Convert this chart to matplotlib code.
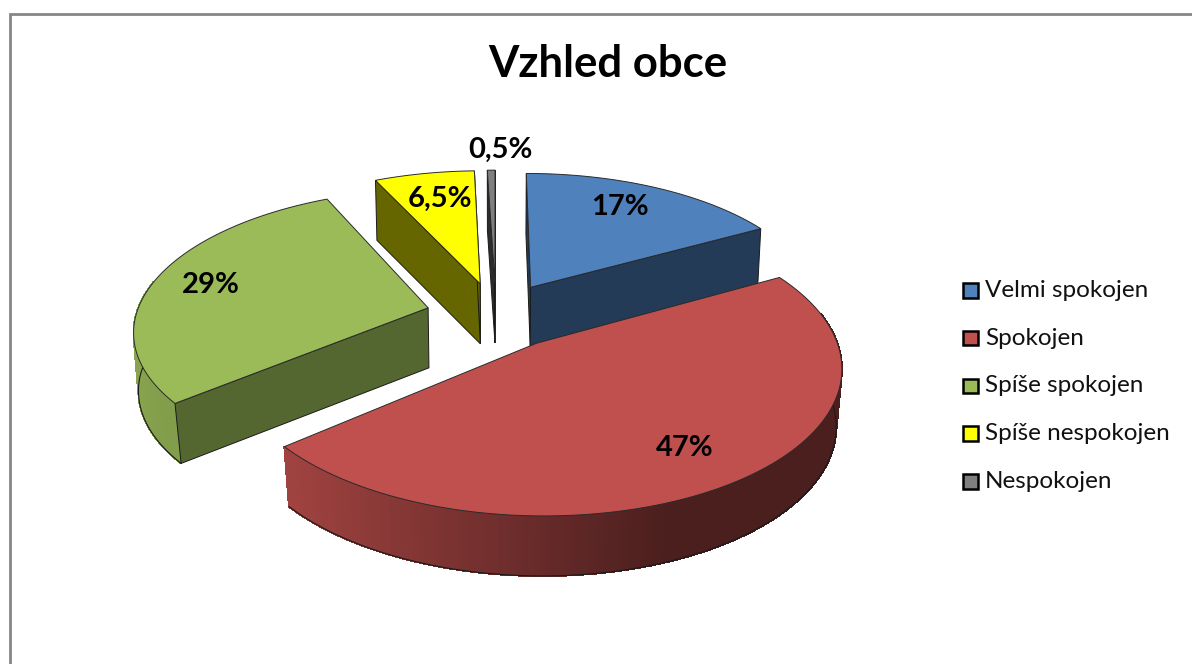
# -*- coding: utf-8 -*-
"""Exploded 3D pie chart, drawn with a small perspective projection."""
import numpy as np
import matplotlib as mpl
import matplotlib.pyplot as plt

categories = ["Velmi spokojen", "Spokojen", "Spíše spokojen",
              "Spíše nespokojen", "Nespokojen"]
values = [17, 47, 29, 6.5, 0.5]
value_labels = ["17%", "47%", "29%", "6,5%", "0,5%"]

colors = ['#4f81bd', '#c0504d', '#9bbb59', '#ffff00', '#7f7f7f']
face_shade = [0.46, 0.4, 0.55, 0.4, 0.35]
# order in which the slices are painted, far ones first
paint_order = [4, 3, 2, 0, 1]

CX, CY = 496.0, 315.0
RADIUS = 292.0
TILT = 0.473
PERSP = 0.147
EXPLODE = 0.24
HEIGHT = 60.0

# label placement: distance from the slice apex, then a pixel nudge
label_radius = [0.76, 0.77, 0.795, 0.76, 1.22]
label_dx = [-8, 0, 0, 4, 10]
label_dy = [-2, 1, 0, 1, 1]


def project(x, y, z=0.0):
    """World coordinates on the pie plane to pixels; z=1 is the bottom."""
    s = RADIUS / (1 + PERSP * y)
    shrink = 1 - (0.012 - 0.012 * np.minimum(y, 0)) * z
    return CX + x * s * shrink, CY - TILT * y * s + HEIGHT * z


def shade(color, factor):
    return tuple(np.array(mpl.colors.to_rgb(color)) * factor)


def draw_face(ax, x0, y0, x1, y1, color, zorder):
    px0, py0 = project(x0, y0)
    px1, py1 = project(x1, y1)
    qx0, qy0 = project(x0, y0, 1)
    qx1, qy1 = project(x1, y1, 1)
    ax.fill([px0, px1, qx1, qx0], [py0, py1, qy1, qy0], facecolor=color,
            edgecolor='#1a1a1a', lw=0.7, zorder=zorder)


def draw_slice(ax, a0, a1, color, cut_shade, zorder):
    mid = np.radians((a0 + a1) / 2)
    off = EXPLODE * np.sin(mid), EXPLODE * np.cos(mid)

    # outer wall, lighter on the left and dark on the right
    angles = np.linspace(a0, a1, int(a1 - a0) + 2)
    bottom_x, bottom_y = [], []
    for b0, b1 in zip(angles[:-1], angles[1:]):
        bm = np.radians((b0 + b1) / 2)
        if np.cos(bm) > 0.2:
            continue
        factor = np.interp(np.sin(bm), [-1, -0.75, 0.1, 0.35, 1],
                           [0.88, 0.83, 0.49, 0.39, 0.39])
        x0, y0 = off[0] + np.sin(np.radians(b0)), off[1] + np.cos(np.radians(b0))
        x1, y1 = off[0] + np.sin(np.radians(b1)), off[1] + np.cos(np.radians(b1))
        px0, py0 = project(x0, y0)
        px1, py1 = project(x1, y1)
        qx0, qy0 = project(x0, y0, 1)
        qx1, qy1 = project(x1, y1, 1)
        c = shade(color, factor)
        ax.fill([px0, px1, qx1, qx0], [py0, py1, qy1, qy0], facecolor=c,
                edgecolor=c, lw=0.8, antialiased=False, zorder=zorder)
        bottom_x += [qx0, qx1]
        bottom_y += [qy0, qy1]
    if bottom_x:
        ax.plot(bottom_x, bottom_y, color='#1a1a1a', lw=0.8, zorder=zorder + 0.1)

    # cut faces, only those turned towards the viewer
    if np.cos(np.radians(a0 - 90)) < 0.1:
        draw_face(ax, off[0], off[1], off[0] + np.sin(np.radians(a0)),
                  off[1] + np.cos(np.radians(a0)), shade(color, cut_shade),
                  zorder + 0.2)
    if np.cos(np.radians(a1 + 90)) < 0.1:
        draw_face(ax, off[0], off[1], off[0] + np.sin(np.radians(a1)),
                  off[1] + np.cos(np.radians(a1)), shade(color, cut_shade),
                  zorder + 0.2)

    # top face
    t = np.radians(np.linspace(a0, a1, 200))
    x = np.r_[off[0], off[0] + np.sin(t)]
    y = np.r_[off[1], off[1] + np.cos(t)]
    px, py = project(x, y)
    ax.fill(px, py, facecolor=color, edgecolor='#2a2a2a', lw=0.7,
            zorder=zorder + 0.5)


fig = plt.figure(figsize=(11.92, 6.64), dpi=100)
plt.rcParams['font.family'] = ['Lato', 'DejaVu Sans']
ax = fig.add_axes([0, 0, 1, 1])
ax.set_xlim(0, 1192)
ax.set_ylim(664, 0)
ax.axis('off')

# chart area border, only top and left are in the picture
ax.plot([10, 10, 1192], [664, 14, 14], color='#868686', lw=2.0,
        solid_joinstyle='miter', zorder=1)

ax.text(608, 64, "Vzhled obce", fontsize=31.5, fontweight='bold',
        ha='center', va='center', color='k')

edges = np.r_[0, np.cumsum(values)] / np.sum(values) * 360
for i in paint_order:
    draw_slice(ax, edges[i], edges[i + 1], colors[i], face_shade[i],
               3 + paint_order.index(i))

for i, text in enumerate(value_labels):
    mid = np.radians((edges[i] + edges[i + 1]) / 2)
    r = EXPLODE + label_radius[i]
    px, py = project(r * np.sin(mid), r * np.cos(mid))
    ax.text(px + label_dx[i], py + label_dy[i], text, fontsize=21,
            fontweight='bold', ha='center', va='center', color='k', zorder=20)

# legend
legend_y = np.linspace(290, 481, len(categories))
for name, color, y in zip(categories, colors, legend_y):
    ax.add_patch(mpl.patches.Rectangle((963, y - 7), 14.5, 14.5, facecolor=color,
                                       edgecolor='k', lw=1.8, zorder=10))
    ax.text(985, y + 0.5, name, fontsize=17.5, ha='left', va='center',
            color='#111111')

fig.savefig('out.png', dpi=100)
